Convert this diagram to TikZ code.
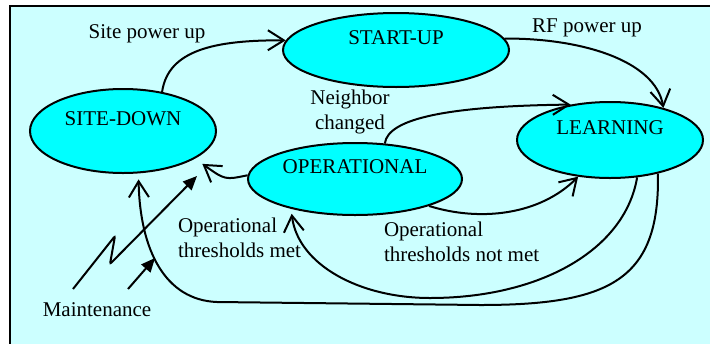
\documentclass[tikz,border=0pt]{standalone}
\usepackage{fontspec}
\setmainfont{Liberation Serif}
\usetikzlibrary{arrows.meta,shapes.geometric}
\definecolor{bgcyan}{HTML}{CCFFFF}
\definecolor{statecyan}{HTML}{00FFFF}
\begin{document}
\begin{tikzpicture}[x=0.5pt, y=-0.5pt, line width=1pt, font=\fontsize{10.5}{12.5}\selectfont,
    state/.style = {draw, ellipse, fill=statecyan, inner sep=0pt, text height=7pt, text depth=12.5pt},
    barb/.style = {-{Straight Barb[length=8pt,width=10pt]}},
    bolt/.style = {-{Triangle[length=7pt,width=6pt]}},
    lbl/.style = {align=left, inner sep=0pt}]
        \useasboundingbox (0,0) rectangle (710,343);
        \clip (0,0) rectangle (710,343);
        \draw[fill=bgcyan] (10,6) rectangle (730,360);
        \node[state, minimum width=93pt, minimum height=42pt] (down) at (123,131) {SITE-DOWN};
        \node[state, minimum width=113pt, minimum height=37pt] (start) at (396,50) {START-UP};
        \node[state, minimum width=93pt, minimum height=38pt] (learn) at (610,140) {LEARNING};
        \node[state, minimum width=107pt, minimum height=36pt] (oper) at (355,179) {OPERATIONAL};
        \node (sitepow) at (147,34) {Site power up};
        \node (rfpow) at (587,28) {RF power up};
        \node[align=center, inner sep=0pt] (nbr) at (350,112) {Neighbor\\changed};
        \node[lbl, anchor=west] (opmet) at (177,238) {Operational\\thresholds met};
        \node[lbl, anchor=west] (opnot) at (383,242) {Operational\\thresholds not met};
        \node (maint) at (97,310) {Maintenance};
        \coordinate (m1) at (73,289);
        \coordinate (m2) at (128,289);
        \coordinate (t1) at (197,176);
        \coordinate (t2) at (155,258);
        \draw[barb] (down.45) .. controls (168,50) and (215,40) .. (start.175);
        \draw[barb] (start.6) .. controls (580,38) and (655,60) .. (learn.31);
        \draw[barb] (oper.50) .. controls (388,118) and (450,106) .. (learn.138);
        \draw[barb] (oper.-20) .. controls (480,222) and (540,215) .. (learn.229);
        \draw[barb, shorten >=2.5pt] (learn.306) .. controls (625,250) and (540,298) .. (430,298)
            .. controls (360,298) and (298,265) .. (oper.205);
        \draw[barb, shorten >=3pt] (learn.325) .. controls (660,280) and (610,305) .. (480,305)
            -- (217,302) .. controls (165,300) and (140,250) .. (down.290);
        \draw[barb, shorten >=4.5pt] (oper.178) .. controls (225,180) .. (down.-21);
        \draw[bolt, rounded corners=1pt] (m1) -- (115,236) -- (110,264) -- (t1);
        \draw[bolt] (m2) -- (t2);
    \end{tikzpicture}
\end{document}
